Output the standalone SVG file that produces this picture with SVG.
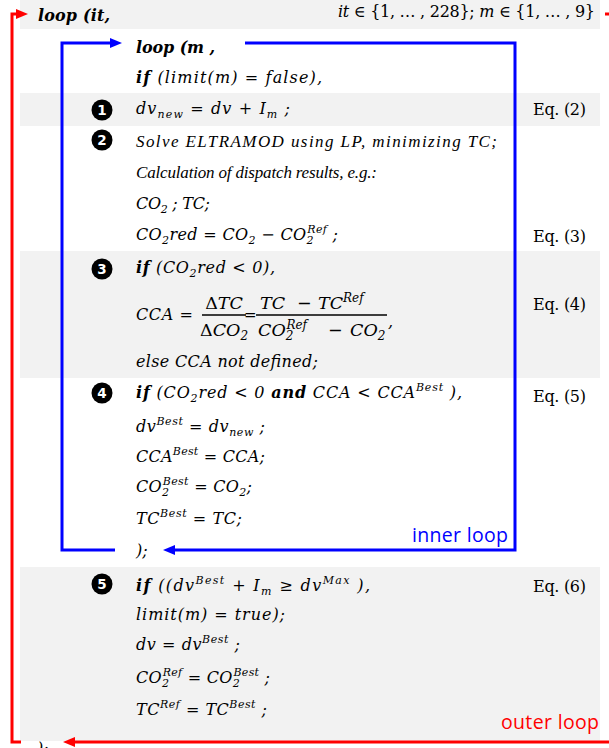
<svg xmlns="http://www.w3.org/2000/svg" width="609" height="748" viewBox="0 0 609 748">
<style>
.bg{fill:#F2F2F2}
.m{font-family:"DejaVu Serif",serif;font-style:italic;font-size:16px;fill:#000}
.f{font-size:17.5px}
.t{font-family:"Liberation Serif",serif;font-style:italic;font-size:17px;fill:#000}
.b{font-weight:bold}
.u{font-style:normal}
.s{font-size:11px}
.s2{font-size:12px}
.eq{font-family:"DejaVu Serif",serif;font-size:16px;fill:#000}
.num{font-family:"DejaVu Sans",sans-serif;font-weight:bold;font-size:13.5px;fill:#fff;text-anchor:middle}
.lbl{font-family:"Open Sans",sans-serif;font-size:19.5px}
.red{stroke:#FF0000;stroke-width:3;fill:none}
.blue{stroke:#0000FF;stroke-width:3;fill:none}
.bar{stroke:#000;stroke-width:1.4}
</style>
<defs>
<marker id="ar" markerUnits="userSpaceOnUse" markerWidth="12" markerHeight="10" refX="6" refY="5" orient="auto"><path d="M0,0 L12,5 L0,10 z" fill="#FF0000"/></marker>
<marker id="ab" markerUnits="userSpaceOnUse" markerWidth="12" markerHeight="10" refX="6" refY="5" orient="auto"><path d="M0,0 L12,5 L0,10 z" fill="#0000FF"/></marker>
</defs>
<rect width="609" height="748" fill="#fff"/>
<g id="bands">
<rect class="bg" x="20" y="0" width="580" height="29"/>
<rect class="bg" x="20" y="93" width="580" height="33"/>
<rect class="bg" x="20" y="251" width="580" height="127"/>
<rect class="bg" x="20" y="567" width="580" height="174"/>
</g>
<g id="header">
<text class="m b" x="38" y="21" textLength="72">loop (it,</text>
<text class="m" x="338" y="17" textLength="257">it<tspan class="u"> ∈ {1, … , 228}; </tspan>m<tspan class="u"> ∈ {1, … , 9}</tspan></text>
</g>
<g id="inner-head">
<text class="m" x="136" y="53" textLength="79"><tspan class="b">loop (m ,</tspan></text>
<text class="m" x="136" y="83" textLength="186"><tspan class="b">if</tspan> (limit(m) = false),</text>
</g>
<g id="step1">
<circle cx="102" cy="110" r="10.5"/><text class="num" x="102" y="115">1</text>
<text class="m" x="136" y="114" textLength="154">dv<tspan class="s" dy="4">new</tspan><tspan dy="-4"> = dv + I</tspan><tspan class="s" dy="4">m</tspan><tspan dy="-4"> ;</tspan></text>
<text class="eq" x="533" y="115" textLength="53">Eq. (2)</text>
</g>
<g id="step2">
<circle cx="102" cy="140" r="10.5"/><text class="num" x="102" y="145">2</text>
<text class="t" x="136" y="147" textLength="361">Solve ELTRAMOD using LP, minimizing TC;</text>
<text class="t" x="136" y="178" textLength="241">Calculation of dispatch results, e.g.:</text>
<text class="m" x="136" y="209" textLength="74">CO<tspan class="s" dy="4">2</tspan><tspan dy="-4"> ; TC;</tspan></text>
<text class="m" x="136" y="240" textLength="202">CO<tspan class="s" dy="4">2</tspan><tspan dy="-4">red = CO</tspan><tspan class="s" dy="4">2</tspan><tspan dy="-4"> − CO</tspan><tspan class="s" dy="4">2</tspan><tspan class="s" dx="-6.5" dy="-11">Ref</tspan><tspan dy="7"> ;</tspan></text>
<text class="eq" x="533" y="242" textLength="53">Eq. (3)</text>
</g>
<g id="step3">
<circle cx="102" cy="269" r="10.5"/><text class="num" x="102" y="274">3</text>
<text class="m" x="136" y="273" textLength="139"><tspan class="b">if</tspan> (CO<tspan class="s" dy="4">2</tspan><tspan dy="-4">red &lt; 0),</tspan></text>
<text class="m" x="136" y="320" textLength="57">CCA =</text>
<text class="m f" x="224" y="309" text-anchor="middle"><tspan class="u">Δ</tspan>TC</text>
<line class="bar" x1="202" y1="315" x2="246" y2="315"/>
<text class="m f" x="224" y="336" text-anchor="middle"><tspan class="u">Δ</tspan>CO<tspan class="s2" dy="4">2</tspan></text>
<text class="m u" x="244" y="320" style="font-size:15px">=</text>
<text class="m f" x="260" y="309">TC<tspan x="297">−</tspan><tspan x="318">TC</tspan><tspan class="s2" dy="-7">Ref</tspan></text>
<line class="bar" x1="256" y1="315" x2="387" y2="315"/>
<text class="m f" x="258" y="336">CO<tspan class="s2" dy="4">2</tspan><tspan class="s2" dx="-7" dy="-11">Ref</tspan><tspan x="328" dy="7">−</tspan><tspan x="350">CO</tspan><tspan class="s2" dy="4">2</tspan></text>
<text class="m" x="388" y="327">,</text>
<text class="eq" x="533" y="310" textLength="53">Eq. (4)</text>
<text class="m" x="136" y="367" textLength="182">else CCA not defined;</text>
</g>
<g id="step4">
<circle cx="102" cy="393" r="10.5"/><text class="num" x="102" y="398">4</text>
<text class="m" x="136" y="398" textLength="326"><tspan class="b">if</tspan> (CO<tspan class="s" dy="4">2</tspan><tspan dy="-4">red &lt; 0 </tspan><tspan class="b">and</tspan> CCA &lt; CCA<tspan class="s" dy="-7">Best</tspan><tspan dy="7"> ),</tspan></text>
<text class="eq" x="533" y="402" textLength="53">Eq. (5)</text>
<text class="m" x="136" y="432" textLength="129">dv<tspan class="s" dy="-7">Best</tspan><tspan dy="7"> = dv</tspan><tspan class="s" dy="4">new</tspan><tspan dy="-4"> ;</tspan></text>
<text class="m" x="136" y="462" textLength="129">CCA<tspan class="s" dy="-7">Best</tspan><tspan dy="7"> = CCA;</tspan></text>
<text class="m" x="136" y="492" textLength="116">CO<tspan class="s" dy="4">2</tspan><tspan class="s" dx="-6.5" dy="-11">Best</tspan><tspan dy="7"> = CO</tspan><tspan class="s" dy="4">2</tspan><tspan dy="-4">;</tspan></text>
<text class="m" x="136" y="524" textLength="106">TC<tspan class="s" dy="-7">Best</tspan><tspan dy="7"> = TC;</tspan></text>
<text class="m" x="136" y="556">);</text>
<text class="lbl" x="412" y="542" fill="#0000FF" textLength="96">inner loop</text>
</g>
<g id="step5">
<circle cx="102" cy="584" r="10.5"/><text class="num" x="102" y="589">5</text>
<text class="m" x="136" y="591" textLength="234"><tspan class="b">if</tspan> ((dv<tspan class="s" dy="-7">Best</tspan><tspan dy="7"> + I</tspan><tspan class="s" dy="4">m</tspan><tspan dy="-4"> ≥ dv</tspan><tspan class="s" dy="-7">Max</tspan><tspan dy="7"> ),</tspan></text>
<text class="eq" x="533" y="592" textLength="53">Eq. (6)</text>
<text class="m" x="136" y="620" textLength="149">limit(m) = true);</text>
<text class="m" x="136" y="650" textLength="104">dv = dv<tspan class="s" dy="-7">Best</tspan><tspan dy="7"> ;</tspan></text>
<text class="m" x="136" y="683" textLength="134">CO<tspan class="s" dy="4">2</tspan><tspan class="s" dx="-6.5" dy="-11">Ref</tspan><tspan dy="7"> = CO</tspan><tspan class="s" dy="4">2</tspan><tspan class="s" dx="-6.5" dy="-11">Best</tspan><tspan dy="7"> ;</tspan></text>
<text class="m" x="136" y="715" textLength="131">TC<tspan class="s" dy="-7">Ref</tspan><tspan dy="7"> = TC</tspan><tspan class="s" dy="-7">Best</tspan><tspan dy="7"> ;</tspan></text>
<text class="lbl" x="501" y="729" fill="#FF0000" textLength="98">outer loop</text>
</g>
<g id="footer">
<text class="m" x="37" y="754">):</text>
</g>
<g id="connectors">
<path class="red" d="M21,742 H12 V14 H22" marker-end="url(#ar)"/>
<path class="red" d="M609,742 H69" marker-end="url(#ar)"/>
<path class="red" d="M605,14 H609"/>
<path class="blue" d="M115,550 H62 V43 H116" marker-end="url(#ab)"/>
<path class="blue" d="M245,43 H515 V550 H169" marker-end="url(#ab)"/>
</g>
</svg>
